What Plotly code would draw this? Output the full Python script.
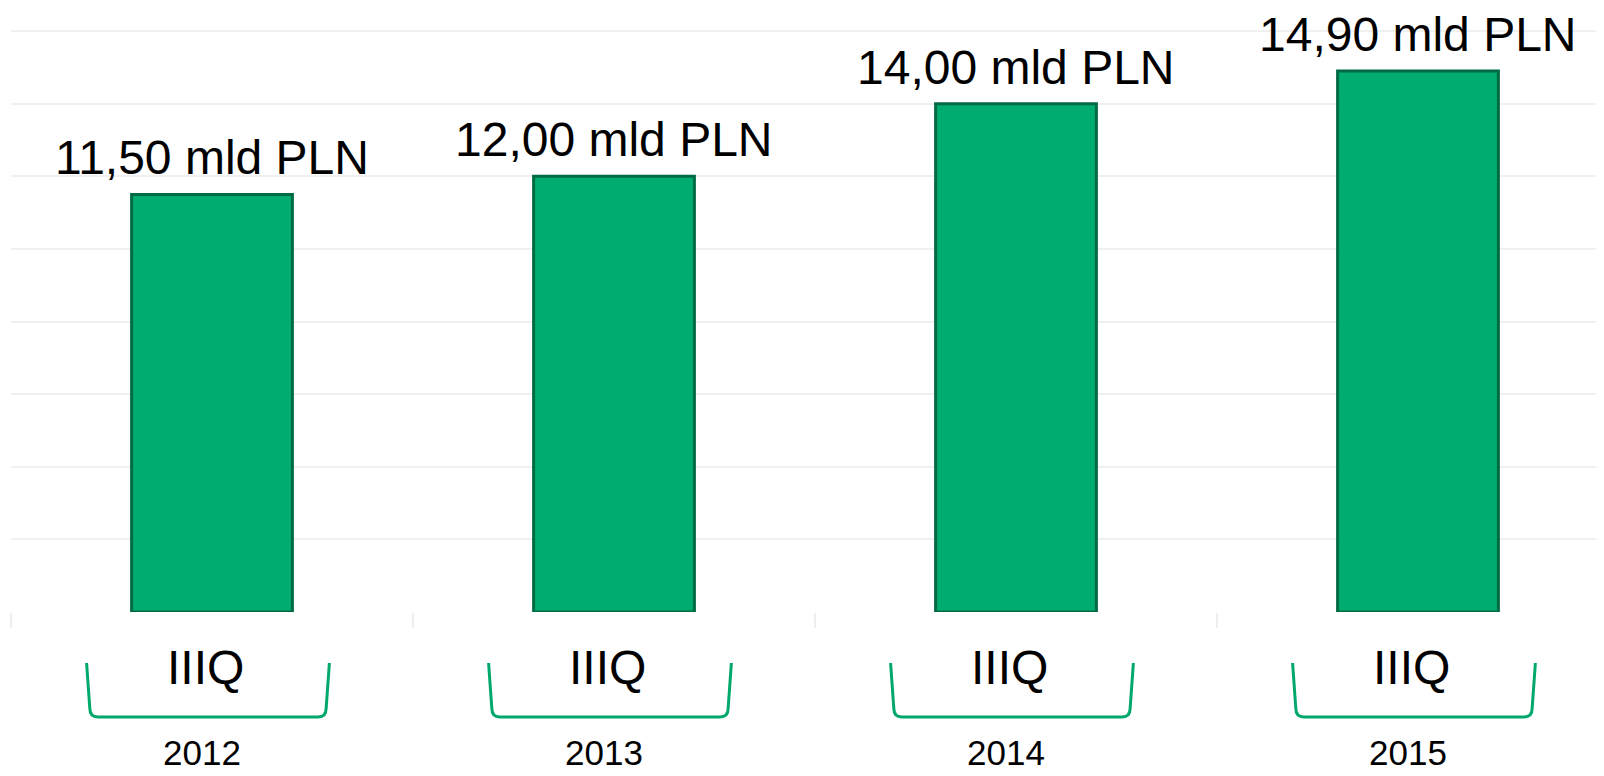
import plotly.graph_objects as go

years = ["2012", "2013", "2014", "2015"]
quarters = ["IIIQ", "IIIQ", "IIIQ", "IIIQ"]
values = [11.50, 12.00, 14.00, 14.90]
unit = "mld PLN"

# page body has an 8px margin; figure sized to fit the 1604x776 window
W, H = 1596, 768
ML, MT, MB = 3, 12, 164
px_per_unit = 581.0 / 16.0
plot_h = H - MT - MB
y_top = plot_h / px_per_unit
cat_px = 402.0
n = len(years)
xpos = list(range(n))
x_max = -0.5 + (W - ML) / cat_px

FONT = "Arial, Liberation Sans, sans-serif"
GREEN = "#00AC6F"
EDGE = "#006B42"
BRACKET = "#00A86B"


def py(pix):
    """paper y for a figure pixel row below the plot bottom"""
    return -pix / plot_h


fig = go.Figure()
fig.add_trace(go.Bar(
    x=xpos, y=values, width=0.40,
    marker=dict(color=GREEN, line=dict(color=EDGE, width=3)),
    hoverinfo="skip", showlegend=False,
))

annotations = []
shapes = []
for i, (yr, q, v) in enumerate(zip(years, quarters, values)):
    label = f"{v:.2f}".replace(".", ",") + " " + unit
    annotations.append(dict(x=i, y=v, xref="x", yref="y", text=label, showarrow=False,
                            yanchor="bottom", yshift=8,
                            font=dict(family=FONT, size=48, color="#000000")))
    annotations.append(dict(x=i - 0.015, y=py(55), xref="x", yref="paper", text=q, showarrow=False,
                            yanchor="middle",
                            font=dict(family=FONT, size=48, color="#000000")))
    annotations.append(dict(x=i - 0.025, y=py(140), xref="x", yref="paper", text=yr, showarrow=False,
                            yanchor="middle",
                            font=dict(family=FONT, size=35, color="#000000")))
    x0 = i - 0.312
    x1 = i + 0.292
    yt = py(51)
    yb = py(105)
    r = 9.0 / plot_h
    dx = 0.008
    rx = 0.02
    path = (f"M {x0},{yt} L {x0+dx},{yb+r} Q {x0+dx},{yb} {x0+dx+rx},{yb} "
            f"L {x1-dx-rx},{yb} Q {x1-dx},{yb} {x1-dx},{yb+r} L {x1},{yt}")
    shapes.append(dict(type="path", path=path, xref="x", yref="paper",
                       line=dict(color=BRACKET, width=3)))

fig.update_layout(
    width=W, height=H,
    margin=dict(l=ML, r=0, t=MT, b=MB, pad=0),
    plot_bgcolor="white", paper_bgcolor="white",
    annotations=annotations, shapes=shapes,
    bargap=0.6,
    xaxis=dict(range=[-0.5, x_max], tickvals=[-0.5, 0.5, 1.5, 2.5, 3.5],
               showticklabels=False, ticks="outside", ticklen=15,
               tickcolor="#EEEEEE", tickwidth=2, showgrid=False, zeroline=False,
               showline=False, fixedrange=True),
    yaxis=dict(range=[0, y_top], tickvals=[0, 2, 4, 6, 8, 10, 12, 14, 16],
               showticklabels=False, showgrid=True,
               gridcolor="#F0F0F0", gridwidth=2, zeroline=False, showline=False,
               fixedrange=True),
)

fig.write_html("out.html")
